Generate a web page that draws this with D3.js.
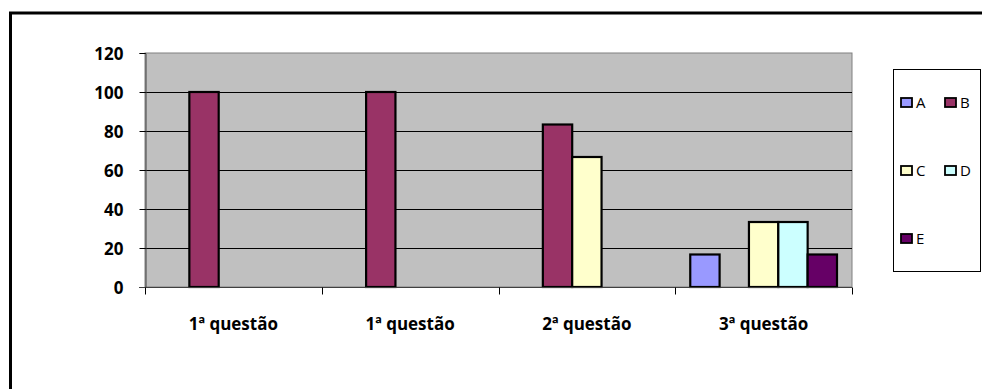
<!DOCTYPE html>
<html>
<head>
<meta charset="utf-8">
<script src="https://cdn.jsdelivr.net/npm/d3@7"></script>
<style>
	body { margin: 0; background: #fff; }
	svg text { font-family: "Open Sans", "Noto Sans", sans-serif; font-weight: bold; fill: #000; }
</style>
</head>
<body>
<svg id="chart" width="982" height="389"></svg>
<script>
const WIDTH = 982;
const HEIGHT = 389;

// data
const categories = ["1ª questão", "1ª questão", "2ª questão", "3ª questão"];
const seriesNames = ["A", "B", "C", "D", "E"];
const seriesA = [0, 0, 0, 16.67];
const seriesB = [100, 100, 83.33, 0];
const seriesC = [0, 0, 66.67, 33.33];
const seriesD = [0, 0, 0, 33.33];
const seriesE = [0, 0, 0, 16.67];
const yTicks = [0, 20, 40, 60, 80, 100, 120];

const seriesValues = [seriesA, seriesB, seriesC, seriesD, seriesE];
const colors = ["#9999ff", "#993366", "#ffffcc", "#ccffff", "#660066"];

const plot = { left: 145, right: 852, top: 53, bottom: 287 };

const svg = d3.select("#chart");

// outer chart frame (right and bottom run off the picture)
svg.append("rect")
	.attr("x", 10.5)
	.attr("y", 13)
	.attr("width", 1000)
	.attr("height", 400)
	.attr("fill", "#fff")
	.attr("stroke", "#000")
	.attr("stroke-width", 3);

const xScale = d3.scaleBand(d3.range(categories.length), [plot.left, plot.right]);
const x1Scale = d3.scaleBand(d3.range(seriesNames.length), [15, xScale.bandwidth() - 15]);
const yScale = d3.scaleLinear([0, 120], [plot.bottom, plot.top]);

// plot area
svg.append("rect")
	.attr("x", plot.left)
	.attr("y", plot.top)
	.attr("width", plot.right - plot.left)
	.attr("height", plot.bottom - plot.top)
	.attr("fill", "#c0c0c0")
	.attr("stroke", "#808080")
	.attr("stroke-width", 1);

// gridlines
svg.selectAll(".grid")
	.data(yTicks.filter(t => t > 0 && t < 120))
	.join("line")
	.classed("grid", true)
	.attr("x1", plot.left)
	.attr("x2", plot.right)
	.attr("y1", d => Math.round(yScale(d)) + 0.5)
	.attr("y2", d => Math.round(yScale(d)) + 0.5)
	.attr("stroke", "#000")
	.attr("stroke-width", 1);

// bars
const bars = [];
seriesValues.forEach((vals, s) => {
	vals.forEach((v, c) => {
		if (v > 0) bars.push({ s, c, v });
	});
});

svg.selectAll(".bar")
	.data(bars)
	.join("rect")
	.classed("bar", true)
	.attr("x", d => xScale(d.c) + x1Scale(d.s))
	.attr("y", d => yScale(d.v))
	.attr("width", x1Scale.bandwidth())
	.attr("height", d => yScale(0) - yScale(d.v))
	.attr("fill", d => colors[d.s])
	.attr("stroke", "#000")
	.attr("stroke-width", 2.2);

// y axis
const yAxis = svg.append("g")
	.attr("transform", `translate(${plot.left + 0.5},0)`)
	.call(d3.axisLeft(yScale).tickValues(yTicks).tickSize(6).tickPadding(16));
yAxis.select(".domain").attr("stroke", "#404040");
yAxis.selectAll(".tick line").attr("stroke", "#000");
yAxis.selectAll("text")
	.style("font-size", "17px")
	.attr("dy", "0.36em");

// x axis
const xAxis = svg.append("g")
	.attr("transform", `translate(0,${plot.bottom + 0.5})`);
xAxis.append("line")
	.attr("x1", plot.left - 6)
	.attr("x2", plot.right)
	.attr("stroke", "#404040");
xAxis.selectAll(".xtick")
	.data(d3.range(categories.length + 1))
	.join("line")
	.classed("xtick", true)
	.attr("x1", d => Math.round(plot.left + d * xScale.step()) + 0.5)
	.attr("x2", d => Math.round(plot.left + d * xScale.step()) + 0.5)
	.attr("y1", 0)
	.attr("y2", 7)
	.attr("stroke", "#000");
xAxis.selectAll(".xlabel")
	.data(categories)
	.join("text")
	.classed("xlabel", true)
	.attr("x", (d, i) => xScale(i) + xScale.bandwidth() / 2)
	.attr("y", 42)
	.attr("text-anchor", "middle")
	.style("font-size", "17px")
	.text(d => d);

// legend
const legend = svg.append("g");
legend.append("rect")
	.attr("x", 893.5)
	.attr("y", 69.5)
	.attr("width", 87)
	.attr("height", 202)
	.attr("fill", "#fff")
	.attr("stroke", "#000")
	.attr("stroke-width", 1);

const legendItems = legend.selectAll(".legend-item")
	.data(seriesNames)
	.join("g")
	.classed("legend-item", true)
	.attr("transform", (d, i) => `translate(${901 + (i % 2) * 44},${103 + Math.floor(i / 2) * 68})`);
legendItems.append("rect")
	.attr("x", 0)
	.attr("y", -5)
	.attr("width", 11)
	.attr("height", 9)
	.attr("fill", (d, i) => colors[i])
	.attr("stroke", "#000")
	.attr("stroke-width", 1.8);
legendItems.append("text")
	.attr("x", 15)
	.attr("y", 0)
	.attr("dy", "0.36em")
	.style("font-size", "15px")
	.style("font-weight", "normal")
	.text(d => d);
</script>
</body>
</html>
